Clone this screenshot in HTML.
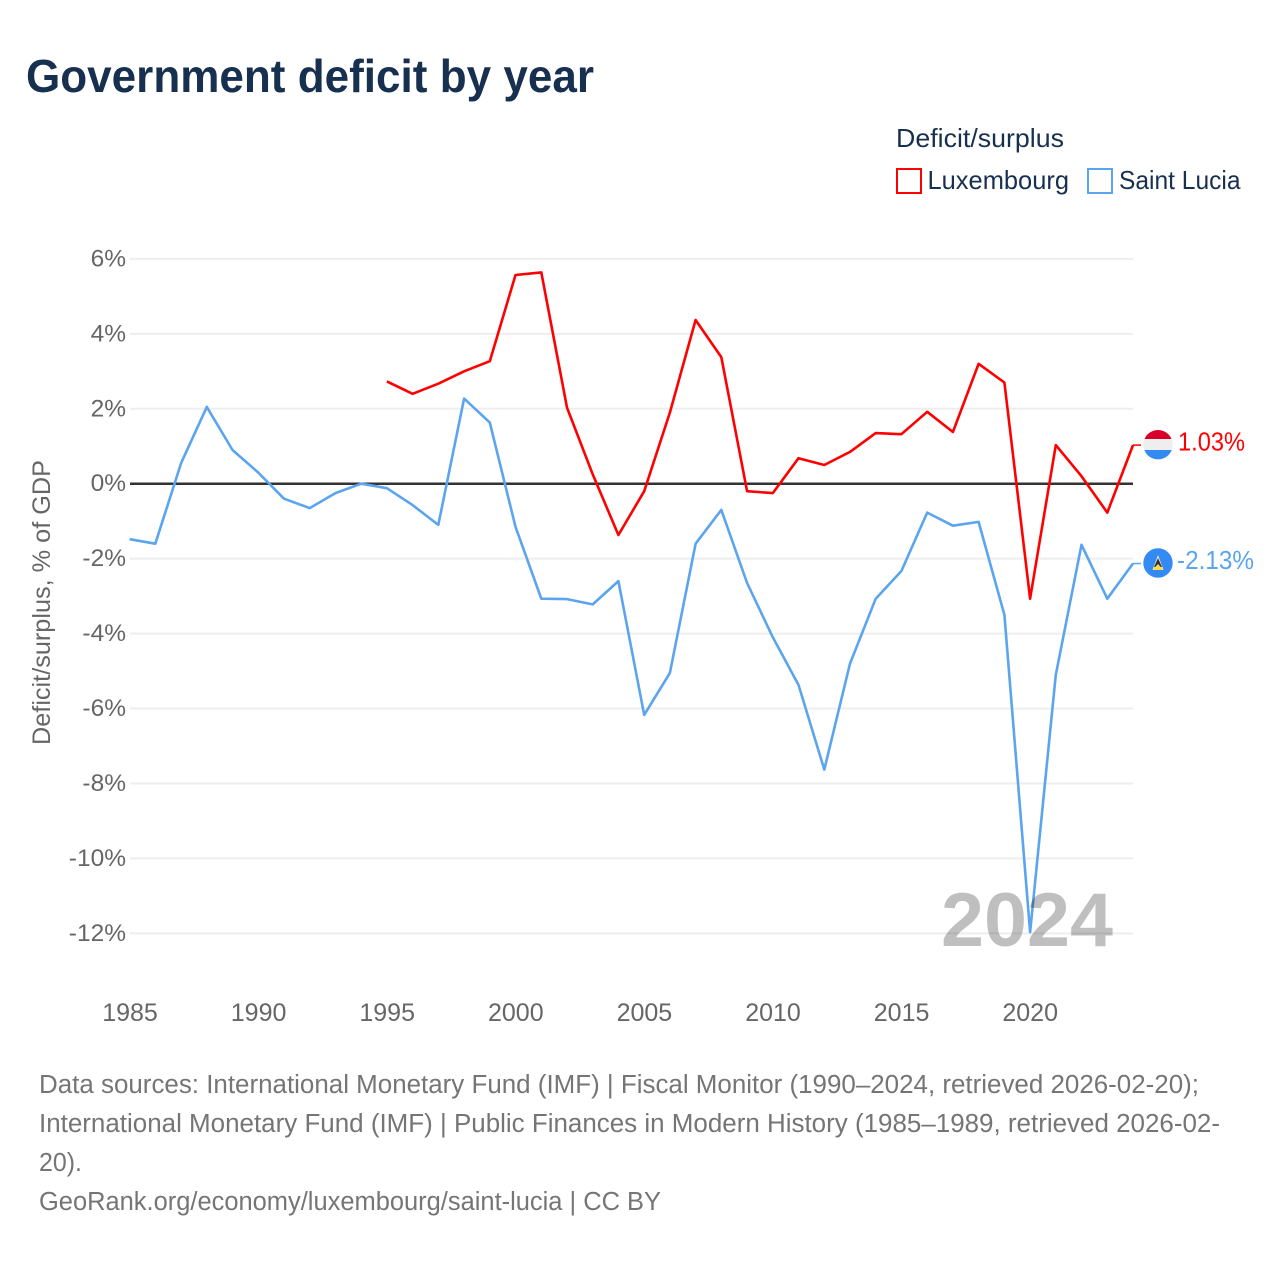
<!DOCTYPE html>
<html lang="en">
<head>
<meta charset="utf-8">
<title>Government deficit by year</title>
<style>
html,body{margin:0;padding:0;background:#fff;}
svg{display:block;}
text{font-family:"Liberation Sans",sans-serif;}
</style>
</head>
<body>
<svg id="chart" width="1280" height="1280" viewBox="0 0 1280 1280" xmlns="http://www.w3.org/2000/svg">
  <defs>
    <clipPath id="flag-clip-lu"><circle cx="1158" cy="444.7" r="14.7"/></clipPath>
    <clipPath id="flag-clip-lc"><circle cx="1158" cy="563" r="14.7"/></clipPath>
  </defs>
  <text x="26" y="92" font-size="46" font-weight="700" fill="#18304f" textLength="568" lengthAdjust="spacingAndGlyphs">Government deficit by year</text>

  <text x="896" y="147" font-size="26" fill="#18304f" textLength="168" lengthAdjust="spacingAndGlyphs">Deficit/surplus</text>
  <g>
    <rect x="897" y="169" width="24" height="24" fill="#fff" stroke="#ff0000" stroke-width="2"/>
    <text x="927.5" y="189" font-size="26" fill="#18304f" textLength="141.5" lengthAdjust="spacingAndGlyphs">Luxembourg</text>
  </g>
  <g>
    <rect x="1088" y="169" width="24" height="24" fill="#fff" stroke="#5ba4ee" stroke-width="2"/>
    <text x="1119" y="189" font-size="26" fill="#18304f" textLength="121.5" lengthAdjust="spacingAndGlyphs">Saint Lucia</text>
  </g>

  <text transform="translate(50 602.5) rotate(-90)" text-anchor="middle" font-size="25" fill="#666" textLength="285" lengthAdjust="spacingAndGlyphs">Deficit/surplus, % of GDP</text>

  <g id="grid"></g>
  <g id="y-ticks"></g>
  <g id="x-ticks"></g>
  <g id="series"></g>

  <g clip-path="url(#flag-clip-lu)">
    <rect x="1143" y="429" width="30" height="10" fill="#d8002a"/>
    <rect x="1143" y="439" width="30" height="11" fill="#eeeeee"/>
    <rect x="1143" y="450" width="30" height="11" fill="#338af3"/>
  </g>
  <g clip-path="url(#flag-clip-lc)">
    <rect x="1143" y="548" width="30" height="30" fill="#338af3"/>
    <polygon points="1158,555 1152.5,570 1163.5,570" fill="#f0f0f0"/>
    <polygon points="1158,558 1154,567 1162,567" fill="#333"/>
    <polygon points="1158,564 1152.5,570 1163.5,570" fill="#ffda44"/>
  </g>
  <text id="label-lu" x="1178" y="450.5" font-size="25.5" fill="#ff0000" textLength="67" lengthAdjust="spacingAndGlyphs"></text>
  <text id="label-lc" x="1177" y="569" font-size="25.5" fill="#5ba4ee" textLength="77" lengthAdjust="spacingAndGlyphs"></text>

  <text id="year-label" x="941" y="946" font-size="76" font-weight="700" fill="#000" fill-opacity="0.25" textLength="172" lengthAdjust="spacingAndGlyphs">2024</text>

  <g font-size="25.5" fill="#757575">
    <text x="39" y="1093" textLength="1160" lengthAdjust="spacingAndGlyphs">Data sources: International Monetary Fund (IMF) | Fiscal Monitor (1990–2024, retrieved 2026-02-20);</text>
    <text x="39" y="1132" textLength="1181" lengthAdjust="spacingAndGlyphs">International Monetary Fund (IMF) | Public Finances in Modern History (1985–1989, retrieved 2026-02-</text>
    <text x="39" y="1171" textLength="43" lengthAdjust="spacingAndGlyphs">20).</text>
    <text x="39" y="1210" textLength="622" lengthAdjust="spacingAndGlyphs">GeoRank.org/economy/luxembourg/saint-lucia | CC BY</text>
  </g>
</svg>
<script>
var yTicks = [6, 4, 2, 0, -2, -4, -6, -8, -10, -12];
var xTicks = [1985, 1990, 1995, 2000, 2005, 2010, 2015, 2020];
var luxYears = [1995,1996,1997,1998,1999,2000,2001,2002,2003,2004,2005,2006,2007,2008,2009,2010,2011,2012,2013,2014,2015,2016,2017,2018,2019,2020,2021,2022,2023,2024];
var luxValues = [2.73,2.4,2.67,3.0,3.27,5.57,5.64,2.03,0.25,-1.37,-0.2,1.9,4.37,3.38,-0.2,-0.25,0.68,0.5,0.85,1.35,1.32,1.92,1.38,3.2,2.7,-3.07,1.03,0.2,-0.77,1.03];
var lucYears = [1985,1986,1987,1988,1989,1990,1991,1992,1993,1994,1995,1996,1997,1998,1999,2000,2001,2002,2003,2004,2005,2006,2007,2008,2009,2010,2011,2012,2013,2014,2015,2016,2017,2018,2019,2020,2021,2022,2023,2024];
var lucValues = [-1.48,-1.6,0.55,2.05,0.9,0.3,-0.4,-0.65,-0.25,0,-0.12,-0.57,-1.1,2.27,1.63,-1.15,-3.07,-3.08,-3.22,-2.6,-6.17,-5.05,-1.6,-0.7,-2.65,-4.1,-5.37,-7.63,-4.8,-3.07,-2.33,-0.77,-1.12,-1.02,-3.5,-11.97,-5.1,-1.63,-3.07,-2.13];

var NS = 'http://www.w3.org/2000/svg';
function xPos(year) { return 129.6 + (year - 1985) * (1133 - 129.6) / 39; }
function yPos(v) { return 483.7 - v * 37.47; }
function make(tag, parent, attrs) {
  var el = document.createElementNS(NS, tag);
  for (var k in attrs) el.setAttribute(k, attrs[k]);
  parent.appendChild(el);
  return el;
}
var grid = document.getElementById('grid');
var yGroup = document.getElementById('y-ticks');
var xGroup = document.getElementById('x-ticks');
var seriesGroup = document.getElementById('series');

yTicks.forEach(function (t) {
  var line = make('line', grid, {x1: 130, x2: 1133, y1: yPos(t), y2: yPos(t), stroke: '#eeeeee', 'stroke-width': 2});
  
  
  var label = make('text', yGroup, {x: 126, y: yPos(t) + 7.5, 'text-anchor': 'end', 'font-size': 24.5, fill: '#666'});
  
  
  label.textContent = t + '%';
});
xTicks.forEach(function (t) {
  var label = make('text', xGroup, {x: 130 + (t - 1985) * 25.72, y: 1021, 'text-anchor': 'middle', 'font-size': 25, fill: '#666'});
  
  
  label.textContent = t;
});

function drawSeries(years, values, color) {
  var pts = years.map(function (y, i) { return xPos(y).toFixed(1) + ',' + yPos(values[i]).toFixed(1); });
  var last = values[values.length - 1];
  var flagStub = make('line', seriesGroup, {x1: 1133, x2: 1141, y1: yPos(last), y2: yPos(last), stroke: color, 'stroke-width': 1.5});
  
  
  var line = make('polyline', seriesGroup, {points: pts.join(' '), fill: 'none', stroke: color, 'stroke-width': 2.6, 'stroke-linejoin': 'round'});
  
  
}
var zero = make('line', seriesGroup, {x1: 130, x2: 1133, y1: yPos(0), y2: yPos(0), stroke: '#333', 'stroke-width': 2.5});


drawSeries(lucYears, lucValues, '#5ba4ee');
drawSeries(luxYears, luxValues, '#ff0000');

document.getElementById('label-lu').textContent = luxValues[luxValues.length - 1].toFixed(2) + '%';
document.getElementById('label-lc').textContent = lucValues[lucValues.length - 1].toFixed(2) + '%';
</script>
</body>
</html>
